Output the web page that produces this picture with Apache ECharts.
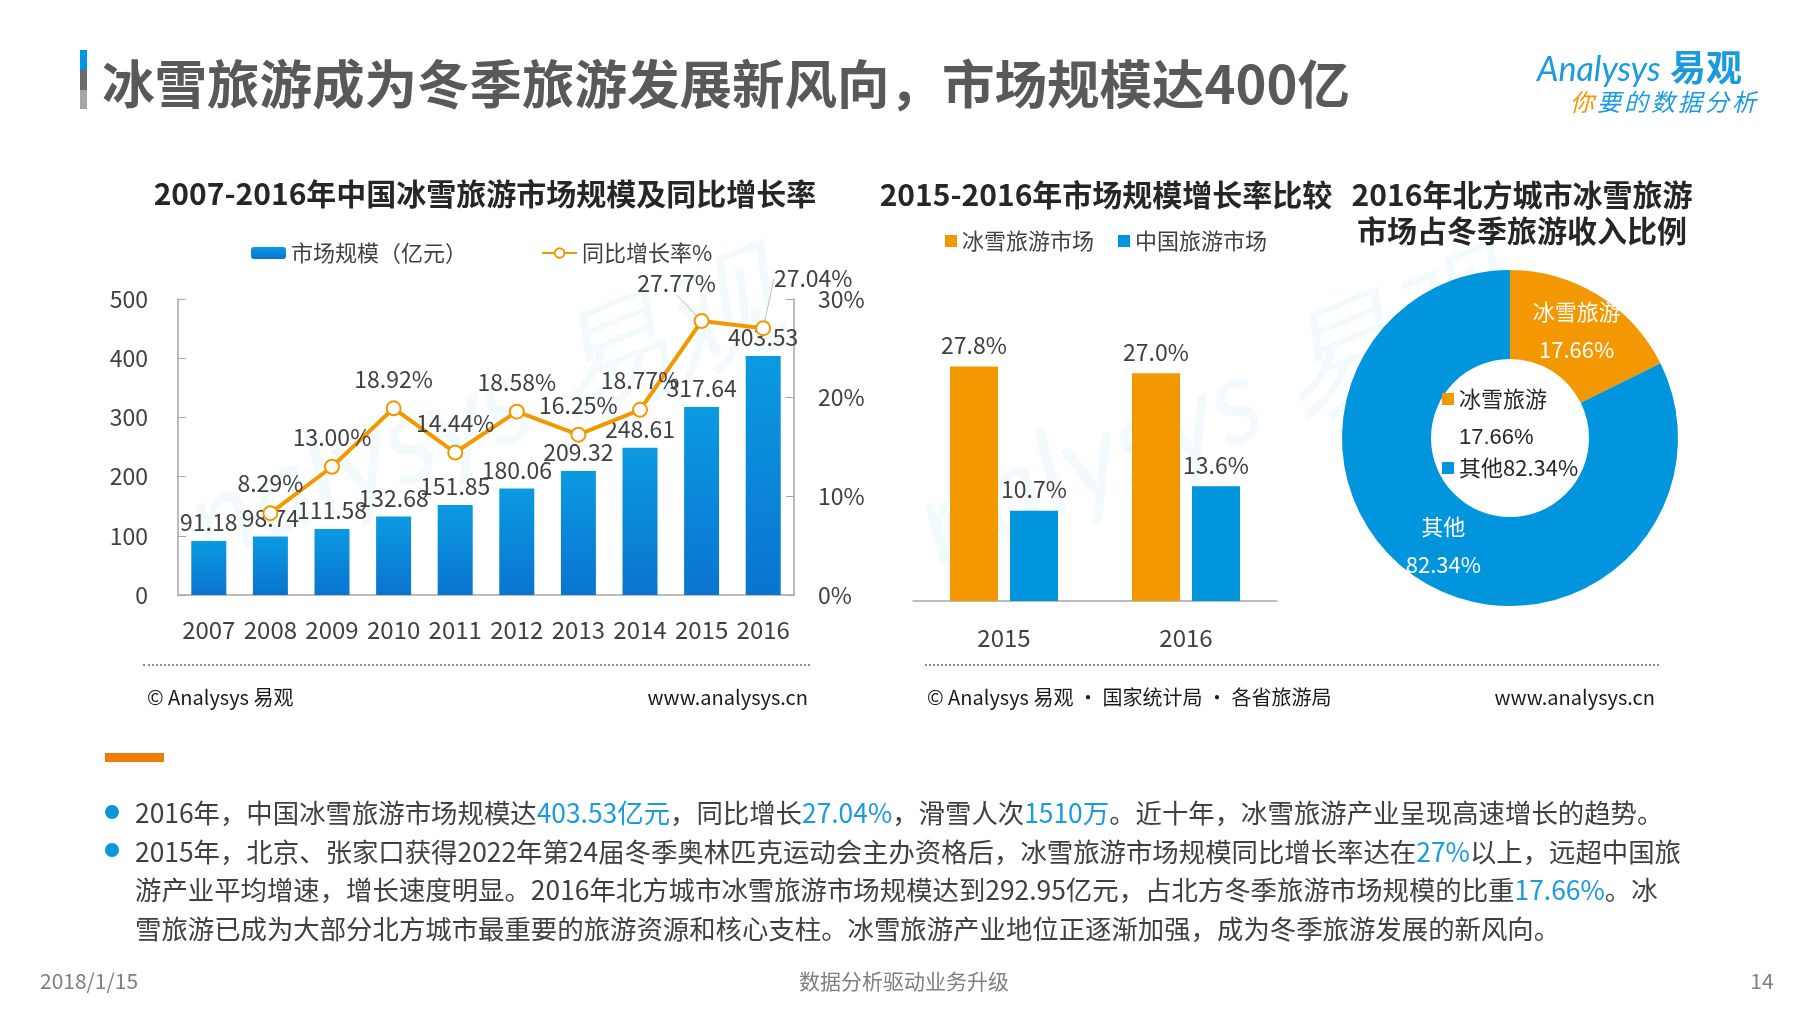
<!DOCTYPE html>
<html>
<head>
	<meta charset="utf-8">
	<title>冰雪旅游成为冬季旅游发展新风向</title>
	<style>
		body { margin: 0; background: #fff; font-family: 'Microsoft YaHei', 'Noto Sans CJK SC', sans-serif; }
		#page { position: relative; width: 1800px; height: 1013px; overflow: hidden; }
		#chart { position: absolute; left: 0; top: 0; width: 1800px; height: 1013px; }
		.t { position: absolute; white-space: nowrap; }
		.mid { transform: translate(-50%, -50%); }
		.vmid { transform: translateY(-50%); }
		.ctitle { font-size: 30px; font-weight: bold; color: #262626; }
		.src { font-size: 20px; color: #1a1a1a; }
		.dots { position: absolute; height: 0; border-top: 2px dotted #8c8c8c; }
		.wm { position: absolute; color: rgba(20, 150, 220, 0.05); font-size: 120px; font-family: 'Lato', sans-serif; font-style: italic; white-space: nowrap; }
		.hl { color: #1a9be0; }
		.bul { position: absolute; width: 14px; height: 14px; border-radius: 7px; background: #0a96dc; }
		#text { position: absolute; left: 135px; top: 793px; font-size: 26.4px; line-height: 38.5px; color: #404040; white-space: nowrap; }
	</style>
</head>
<body>
	<div id="page">
		<!-- 水印 -->
		<div class="wm" style="left:170px;top:330px;transform:rotate(-22deg);">nalysys 易观</div>
		<div class="wm" style="left:900px;top:330px;transform:rotate(-22deg);">nalysys 易观</div>

		<div id="chart"></div>

		<!-- 标题 -->
		<div style="position:absolute;left:80px;top:50px;width:7px;height:20px;background:#0096e0;"></div>
		<div style="position:absolute;left:80px;top:70px;width:7px;height:20px;background:#6b6b6b;"></div>
		<div style="position:absolute;left:80px;top:90px;width:7px;height:19px;background:#a6a6a6;"></div>
		<div class="t vmid" style="left:102px;top:81px;font-size:52.5px;font-weight:bold;color:#595959;">冰雪旅游成为冬季旅游发展新风向，市场规模达400亿</div>

		<!-- logo -->
		<div class="t vmid" style="left:1537px;top:65px;color:#1a9be0;">
			<span style="font-family:'Lato',sans-serif;font-style:italic;font-size:34px;">Analysys</span>
			<span style="font-size:36px;font-weight:bold;margin-left:6px;">易观</span>
		</div>
		<div class="t vmid" style="left:1570px;top:100px;font-size:24px;letter-spacing:3px;font-style:italic;color:#1a9be0;"><span style="color:#f39800;">你</span>要的数据分析</div>

		<!-- 图表标题 -->
		<div class="t mid ctitle" style="left:485px;top:192px;">2007-2016年中国冰雪旅游市场规模及同比增长率</div>
		<div class="t mid ctitle" style="left:1106px;top:193px;">2015-2016年市场规模增长率比较</div>
		<div class="t mid ctitle" style="left:1522px;top:193px;">2016年北方城市冰雪旅游</div>
		<div class="t mid ctitle" style="left:1522px;top:229px;">市场占冬季旅游收入比例</div>

		<!-- 来源 -->
		<div class="dots" style="left:143px;top:664px;width:667px;"></div>
		<div class="t vmid src" style="left:147px;top:696px;">© Analysys 易观</div>
		<div class="t vmid src" style="right:992px;top:696px;">www.analysys.cn</div>
		<div class="dots" style="left:925px;top:664px;width:734px;"></div>
		<div class="t vmid src" style="left:927px;top:696px;">© Analysys 易观 · 国家统计局 · 各省旅游局</div>
		<div class="t vmid src" style="right:145px;top:696px;">www.analysys.cn</div>

		<!-- 正文 -->
		<div style="position:absolute;left:105px;top:753px;width:59px;height:9px;background:#f07c0a;"></div>
		<div class="bul" style="left:105px;top:805px;"></div>
		<div class="bul" style="left:105px;top:843px;"></div>
		<div id="text">
			2016年，中国冰雪旅游市场规模达<span class="hl">403.53亿元</span>，同比增长<span class="hl">27.04%</span>，滑雪人次<span class="hl">1510万</span>。近十年，冰雪旅游产业呈现高速增长的趋势。<br>
			2015年，北京、张家口获得2022年第24届冬季奥林匹克运动会主办资格后，冰雪旅游市场规模同比增长率达在<span class="hl">27%</span>以上，远超中国旅<br>
			游产业平均增速，增长速度明显。2016年北方城市冰雪旅游市场规模达到292.95亿元，占北方冬季旅游市场规模的比重<span class="hl">17.66%</span>。冰<br>
			雪旅游已成为大部分北方城市最重要的旅游资源和核心支柱。冰雪旅游产业地位正逐渐加强，成为冬季旅游发展的新风向。
		</div>

		<!-- 页脚 -->
		<div class="t vmid" style="left:40px;top:980px;font-size:21px;color:#7f7f7f;">2018/1/15</div>
		<div class="t mid" style="left:904px;top:980px;font-size:21px;color:#7f7f7f;">数据分析驱动业务升级</div>
		<div class="t mid" style="left:1762px;top:980px;font-size:21px;color:#7f7f7f;">14</div>
	</div>

	<script src="https://cdn.jsdelivr.net/npm/echarts/dist/echarts.min.js"></script>
	<script>
		// 2007-2016 市场规模及增长率
		var years = ['2007', '2008', '2009', '2010', '2011', '2012', '2013', '2014', '2015', '2016'];
		var marketSize = [91.18, 98.74, 111.58, 132.68, 151.85, 180.06, 209.32, 248.61, 317.64, 403.53];
		var growthRate = [null, 8.29, 13.00, 18.92, 14.44, 18.58, 16.25, 18.77, 27.77, 27.04];

		// 2015-2016 增长率比较
		var compareYears = ['2015', '2016'];
		var iceSnowGrowth = [27.8, 27.0];
		var chinaTourismGrowth = [10.7, 13.6];

		// 2016 北方城市冰雪旅游占比
		var shareNames = ['冰雪旅游', '其他'];
		var shareValues = [17.66, 82.34];

		var FONT = "'Microsoft YaHei', 'Noto Sans CJK SC', sans-serif";
		var TXT = '#404040';
		var ORANGE = '#f39800';
		var BLUE = '#0095dc';
		var AXIS = '#a6a6a6';

		var chart = echarts.init(document.getElementById('chart'));

		var lineData = growthRate.map(function(v, i) {
			if (v === null) return '-';
			if (i >= 8) return { value: v, labelLine: { show: true } };
			return v;
		});

		var pieData = shareNames.map(function(n, i) {
			return { name: n, value: shareValues[i], itemStyle: { color: i === 0 ? ORANGE : BLUE } };
		});

		var option = {
			animation: false,
			textStyle: { fontFamily: FONT },
			grid: [
				{ left: 178, top: 299, width: 616, height: 296 },
				{ left: 913, top: 348, width: 364, height: 253 }
			],
			legend: [{
					data: ['市场规模（亿元）', '同比增长率%'],
					left: 251, top: 241, padding: 0, itemWidth: 35, itemHeight: 12, itemGap: 74,
					selectedMode: false,
					textStyle: { fontSize: 22, color: TXT, lineHeight: 24 }
				},
				{
					data: ['冰雪旅游市场', '中国旅游市场'],
					left: 945, top: 229, padding: 0, itemWidth: 12, itemHeight: 12, itemGap: 24, icon: 'rect',
					selectedMode: false,
					textStyle: { fontSize: 22, color: TXT, lineHeight: 24 }
				},
				{
					data: ['冰雪旅游'],
					left: 1442, top: 387, padding: 0, itemWidth: 12, itemHeight: 12, icon: 'rect',
					selectedMode: false,
					textStyle: { fontSize: 22, color: '#262626', lineHeight: 24 }
				},
				{
					data: ['其他'],
					left: 1442, top: 456, padding: 0, itemWidth: 12, itemHeight: 12, icon: 'rect',
					selectedMode: false,
					formatter: function(name) {
						return name + shareValues[1].toFixed(2) + '%';
					},
					textStyle: { fontSize: 22, color: '#262626', lineHeight: 24 }
				}
			],
			graphic: [{
				type: 'text',
				left: 1459, top: 427,
				style: { text: shareValues[0].toFixed(2) + '%', fontSize: 22, fill: '#262626', font: '22px ' + FONT }
			}],
			xAxis: [{
					type: 'category', gridIndex: 0, data: years,
					axisLine: { lineStyle: { color: AXIS, width: 1.5 } },
					axisTick: { show: false },
					axisLabel: { fontSize: 24, color: TXT, margin: 23, interval: 0 }
				},
				{
					type: 'category', gridIndex: 1, data: compareYears,
					axisLine: { lineStyle: { color: AXIS, width: 1.5 } },
					axisTick: { show: false },
					axisLabel: { fontSize: 24, color: TXT, margin: 25, interval: 0 }
				}
			],
			yAxis: [{
					type: 'value', gridIndex: 0, min: 0, max: 500, interval: 100,
					axisLine: { show: true, lineStyle: { color: AXIS, width: 1.5 } },
					axisTick: { show: true, inside: true, length: 8, lineStyle: { color: AXIS } },
					axisLabel: { fontSize: 23, color: TXT, margin: 30 },
					splitLine: { show: false }
				},
				{
					type: 'value', gridIndex: 0, position: 'right', min: 0, max: 30, interval: 10,
					axisLine: { show: true, lineStyle: { color: AXIS, width: 1.5 } },
					axisTick: { show: true, inside: true, length: 8, lineStyle: { color: AXIS } },
					axisLabel: { fontSize: 23, color: TXT, margin: 24, formatter: '{value}%' },
					splitLine: { show: false }
				},
				{
					type: 'value', gridIndex: 1, min: 0, max: 30, show: false,
					splitLine: { show: false }
				}
			],
			series: [{
					name: '市场规模（亿元）',
					type: 'bar', xAxisIndex: 0, yAxisIndex: 0,
					data: marketSize,
					barWidth: 35,
					itemStyle: {
						color: new echarts.graphic.LinearGradient(0, 0, 0, 1, [
							{ offset: 0, color: '#0b9ae2' },
							{ offset: 1, color: '#0a74cf' }
						])
					},
					label: { show: true, position: 'top', distance: 7, fontSize: 23, color: TXT }
				},
				{
					name: '同比增长率%',
					type: 'line', xAxisIndex: 0, yAxisIndex: 1,
					data: lineData,
					symbol: 'emptyCircle', symbolSize: 14,
					lineStyle: { color: ORANGE, width: 4 },
					itemStyle: { color: ORANGE, borderWidth: 2.5 },
					label: {
						show: true, position: 'top', distance: 10, fontSize: 23, color: TXT,
						formatter: function(p) { return p.value.toFixed(2) + '%'; }
					},
					labelLine: { lineStyle: { color: '#bfbfbf', width: 1 } },
					labelLayout: function(p) {
						if (p.dataIndex === 8) return { dx: -25, dy: -8 };
						if (p.dataIndex === 9) return { dx: 50, dy: -20 };
					}
				},
				{
					name: '冰雪旅游市场',
					type: 'bar', xAxisIndex: 1, yAxisIndex: 2,
					data: iceSnowGrowth,
					barWidth: 48, barGap: '25%',
					itemStyle: { color: ORANGE },
					label: {
						show: true, position: 'top', distance: 10, fontSize: 23, color: TXT,
						formatter: function(p) { return p.value.toFixed(1) + '%'; }
					}
				},
				{
					name: '中国旅游市场',
					type: 'bar', xAxisIndex: 1, yAxisIndex: 2,
					data: chinaTourismGrowth,
					barWidth: 48, barGap: '25%',
					itemStyle: { color: BLUE },
					label: {
						show: true, position: 'top', distance: 10, fontSize: 23, color: TXT,
						formatter: function(p) { return p.value.toFixed(1) + '%'; }
					}
				},
				{
					name: '北方城市冰雪旅游占比',
					type: 'pie',
					center: [1510, 438],
					radius: [79, 168],
					startAngle: 90,
					clockwise: true,
					avoidLabelOverlap: false,
					emphasis: { disabled: true },
					itemStyle: { borderWidth: 0, borderRadius: 0 },
					label: {
						show: true, position: 'inside', fontSize: 22, color: '#fff', lineHeight: 38,
						formatter: function(p) { return p.name + '\n' + p.value.toFixed(2) + '%'; }
					},
					labelLine: { show: false },
					data: pieData
				}
			]
		};

		chart.setOption(option);
	</script>
</body>
</html>
